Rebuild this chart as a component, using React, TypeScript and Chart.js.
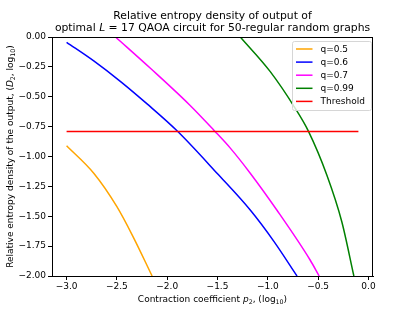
import React, { useEffect, useRef } from "react";
import { Chart, registerables } from "chart.js";

Chart.register(...registerables);

// Data (x = log10 p2, y = log10 D2)
const q05X = [-3.0, -2.73, -2.5, -2.34, -2.15];
const q05Y = [-0.91, -1.14, -1.42, -1.67, -2.0];

const q06X = [-3.0, -2.73, -2.46, -2.2, -1.9, -1.505, -1.175, -0.94, -0.71];
const q06Y = [-0.044, -0.2, -0.375, -0.56, -0.787, -1.14, -1.448, -1.71, -2.0];

const q07X = [-2.514, -2.167, -1.777, -1.532, -1.373, -1.175, -0.911, -0.58, -0.49];
const q07Y = [0.0, -0.262, -0.569, -0.784, -0.93, -1.14, -1.448, -1.866, -2.0];

const q099X = [-1.274, -0.976, -0.728, -0.596, -0.414, -0.265, -0.145];
const q099Y = [0.0, -0.29, -0.597, -0.79, -1.155, -1.546, -2.0];

const thresholdX = [-3.0, -0.1];
const thresholdY = [-0.79, -0.79];

const seriesLabels = ["q=0.5", "q=0.6", "q=0.7", "q=0.99", "Threshold"];
const seriesColors = ["#ffa500", "#0000ff", "#ff00ff", "#008000", "#ff0000"];

const xTicks = [-3.0, -2.5, -2.0, -1.5, -1.0, -0.5, 0.0];
const yTicks = [-2.0, -1.75, -1.5, -1.25, -1.0, -0.75, -0.5, -0.25, 0.0];

const FONT = "'DejaVu Sans', sans-serif";
const SMALL = 9;

type Seg = { t: string; it?: boolean; sub?: boolean };

function segFont(s: Seg, size: number) {
  const sz = s.sub ? size * 0.7 : size;
  return `${s.it ? "italic " : ""}${sz}px ${FONT}`;
}

function drawRich(ctx: CanvasRenderingContext2D, segs: Seg[], cx: number, cy: number, size: number) {
  let total = 0;
  const widths: number[] = [];
  for (const s of segs) {
    ctx.font = segFont(s, size);
    const w = ctx.measureText(s.t).width;
    widths.push(w);
    total += w;
  }
  let x = cx - total / 2;
  ctx.textBaseline = "alphabetic";
  ctx.textAlign = "left";
  const base = cy + size * 0.36;
  segs.forEach((s, i) => {
    ctx.font = segFont(s, size);
    ctx.fillText(s.t, x, s.sub ? base + size * 0.22 : base);
    x += widths[i];
  });
}

function pts(xs: number[], ys: number[]) {
  return xs.map((x, i) => ({ x, y: ys[i] }));
}

const decorPlugin = {
  id: "decor",
  afterDraw(chart: any) {
    const ctx: CanvasRenderingContext2D = chart.ctx;
    const a = chart.chartArea;
    ctx.save();
    // spines
    ctx.strokeStyle = "#000";
    ctx.lineWidth = 1;
    ctx.strokeRect(Math.round(a.left) + 0.5, Math.round(a.top) + 0.5, Math.round(a.right - a.left) - 1, Math.round(a.bottom - a.top));
    ctx.fillStyle = "#000";
    // title
    const cx = (a.left + a.right) / 2;
    drawRich(ctx, [{ t: "Relative entropy density of output of" }], cx, 15, 10.8);
    drawRich(
      ctx,
      [
        { t: "optimal " },
        { t: "L", it: true },
        { t: " = 17 QAOA circuit for 50-regular random graphs" },
      ],
      cx,
      27.5,
      10.8
    );
    // x label
    drawRich(
      ctx,
      [
        { t: "Contraction coefficient " },
        { t: "p", it: true },
        { t: "2", sub: true },
        { t: ", (log" },
        { t: "10", sub: true },
        { t: ")" },
      ],
      cx,
      298.5,
      SMALL
    );
    // y label
    ctx.save();
    ctx.translate(10, (a.top + a.bottom) / 2);
    ctx.rotate(-Math.PI / 2);
    drawRich(
      ctx,
      [
        { t: "Relative entropy density of the output, (" },
        { t: "D", it: true },
        { t: "2", sub: true },
        { t: ", log" },
        { t: "10", sub: true },
        { t: ")" },
      ],
      0,
      0,
      SMALL
    );
    ctx.restore();
    // legend
    const lx = 292.5, ly = 41.5, lw = 79, lh = 69, r = 2;
    ctx.beginPath();
    ctx.moveTo(lx + r, ly);
    ctx.lineTo(lx + lw - r, ly);
    ctx.quadraticCurveTo(lx + lw, ly, lx + lw, ly + r);
    ctx.lineTo(lx + lw, ly + lh - r);
    ctx.quadraticCurveTo(lx + lw, ly + lh, lx + lw - r, ly + lh);
    ctx.lineTo(lx + r, ly + lh);
    ctx.quadraticCurveTo(lx, ly + lh, lx, ly + lh - r);
    ctx.lineTo(lx, ly + r);
    ctx.quadraticCurveTo(lx, ly, lx + r, ly);
    ctx.closePath();
    ctx.fillStyle = "rgba(255,255,255,0.8)";
    ctx.fill();
    ctx.strokeStyle = "#d6d6d6";
    ctx.lineWidth = 1;
    ctx.stroke();
    seriesLabels.forEach((lab, i) => {
      const yy = 49 + i * 13.1;
      ctx.strokeStyle = seriesColors[i];
      ctx.lineWidth = 1.5;
      ctx.beginPath();
      ctx.moveTo(296, yy);
      ctx.lineTo(312.5, yy);
      ctx.stroke();
      ctx.fillStyle = "#000";
      ctx.font = `${SMALL}px ${FONT}`;
      ctx.textAlign = "left";
      ctx.textBaseline = "middle";
      ctx.fillText(lab, 320.5, yy + 0.5);
    });
    ctx.restore();
  },
};

function fmt(v: number, d: number) {
  const s = Math.abs(v).toFixed(d);
  return v < -1e-9 ? "\u2212" + s : s;
}

export default function App() {
  const ref = useRef<HTMLCanvasElement | null>(null);
  useEffect(() => {
    document.body.style.margin = "0";
    const canvas = ref.current!;
    const xs = [q05X, q06X, q07X, q099X, thresholdX];
    const ys = [q05Y, q06Y, q07Y, q099Y, thresholdY];
    const chart = new Chart(canvas, {
      type: "line",
      data: {
        datasets: seriesLabels.map((lab, i) => ({
          label: lab,
          data: pts(xs[i], ys[i]),
          borderColor: seriesColors[i],
          backgroundColor: seriesColors[i],
          borderWidth: 1.5,
          pointRadius: 0,
          fill: false,
          cubicInterpolationMode: "monotone" as const,
          order: seriesLabels.length - i,
        })),
      },
      options: {
        animation: false,
        responsive: false,
        devicePixelRatio: 1,
        events: [],
        layout: { padding: { left: 0, right: 42, top: 37, bottom: 0 } },
        plugins: { legend: { display: false }, title: { display: false }, tooltip: { enabled: false } },
        scales: {
          x: {
            type: "linear",
            min: -3.145,
            max: 0.045,
            afterFit: (s: any) => {
              s.height = 35;
            },
            afterBuildTicks: (s: any) => {
              s.ticks = xTicks.map((v) => ({ value: v }));
            },
            ticks: {
              callback: (v: any) => fmt(Number(v), 1),
              color: "#000",
              font: { family: FONT, size: SMALL },
              padding: 1,
              maxRotation: 0,
              autoSkip: false,
            },
            grid: { drawOnChartArea: false, drawTicks: true, tickLength: 4, color: "#000", lineWidth: 1 },
            border: { display: true, color: "#000", width: 1 },
          },
          y: {
            type: "linear",
            min: -2,
            max: 0,
            afterFit: (s: any) => {
              s.width = 52;
            },
            afterBuildTicks: (s: any) => {
              s.ticks = yTicks.map((v) => ({ value: v }));
            },
            ticks: {
              callback: (v: any) => fmt(Number(v), 2),
              color: "#000",
              font: { family: FONT, size: SMALL },
              padding: 2,
              autoSkip: false,
            },
            grid: { drawOnChartArea: false, drawTicks: true, tickLength: 4, color: "#000", lineWidth: 1 },
            border: { display: true, color: "#000", width: 1 },
          },
        },
      },
      plugins: [decorPlugin],
    } as any);
    return () => chart.destroy();
  }, []);
  return (
    <div style={{ position: "absolute", left: 0, top: 0, width: 415, height: 311, background: "#fff" }}>
      <canvas ref={ref} width={415} height={311} style={{ width: 415, height: 311, display: "block" }} />
    </div>
  );
}
